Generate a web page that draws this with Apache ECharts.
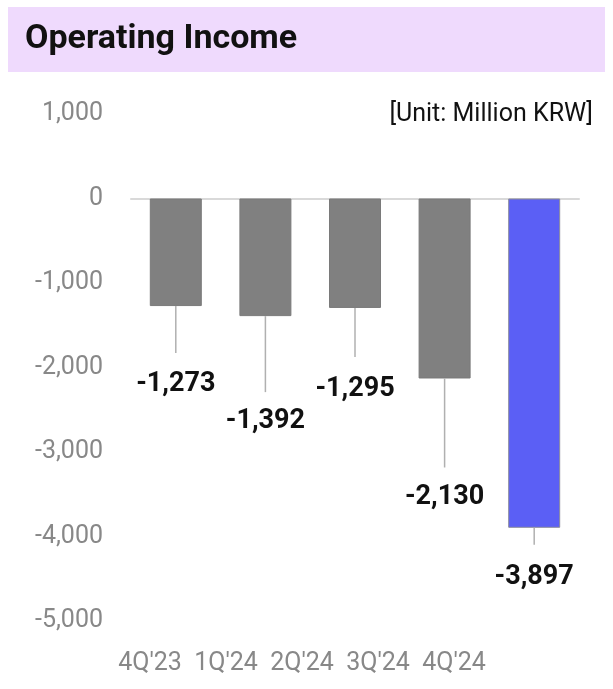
<!DOCTYPE html>
<html>
<head>
<meta charset="utf-8">
<script src="https://cdn.jsdelivr.net/npm/echarts@6/dist/echarts.min.js"></script>
<style>
html,body{margin:0;padding:0;background:#fff;}
#chart{width:613px;height:689px;}
</style>
</head>
<body>
<div id="chart"></div>
<script>
// ---- data ----
const categories = ["4Q'23", "1Q'24", "2Q'24", "3Q'24", "4Q'24"];
const values = [-1273, -1392, -1295, -2130, -3897];
const yTicks = [1000, 0, -1000, -2000, -3000, -4000, -5000];
const titleText = 'Operating Income';
const unitText = '[Unit: Million KRW]';

// ---- layout / style (pixels) ----
const leaderLen = [47, 76, 49, 89, 17];   // leader line length below bar end
const labelGap = [78, 105, 81, 119, 49];  // label centre below bar end
const highlightIndex = 4;

const chart = echarts.init(document.getElementById('chart'), null, {renderer: 'canvas'});
const fmt = v => (v < 0 ? '-' : '') + Math.abs(v).toLocaleString('en-US');

const option = {
  animation: false,
  backgroundColor: '#ffffff',
  graphic: [
    {type: 'rect', left: 8, top: 7, shape: {width: 597, height: 65}, style: {fill: '#EFDAFD'}, z: 0},
    {type: 'text', left: 25, top: 22, style: {text: titleText, font: 'bold 34px Roboto', fill: '#111'}, z: 1},
    {type: 'text', right: 20, top: 102, style: {text: unitText, font: '25px Roboto', fill: '#111'}, z: 1}
  ],
  grid: [
    {left: 131, right: 34, top: 114, bottom: 68},
    {left: 112, width: 380, top: 114, bottom: 68}
  ],
  xAxis: [
    {type: 'category', gridIndex: 0, data: categories,
     axisLine: {show: true, onZero: true, lineStyle: {color: '#d9d9d9', width: 2}},
     axisTick: {show: false}, axisLabel: {show: false}, splitLine: {show: false}},
    {type: 'category', gridIndex: 1, data: categories, position: 'bottom',
     axisLine: {show: false}, axisTick: {show: false},
     axisLabel: {show: true, color: '#888', fontFamily: 'Roboto', fontSize: 25, margin: 30, interval: 0}}
  ],
  yAxis: [
    {type: 'value', gridIndex: 0, min: -5000, max: 1000, interval: 1000,
     axisLine: {show: false}, axisTick: {show: false}, splitLine: {show: false},
     axisLabel: {color: '#888', fontFamily: 'Roboto', fontSize: 25, margin: 28, formatter: v => fmt(v)}},
    {type: 'value', gridIndex: 1, min: -5000, max: 1000, show: false}
  ],
  series: [
    {
      type: 'bar', xAxisIndex: 0, yAxisIndex: 0, barWidth: 52,
      data: values.map((v, i) => ({
        value: v,
        itemStyle: i === highlightIndex
          ? {color: '#5B5FF5', borderColor: '#8a8a9a', borderWidth: 1}
          : {color: '#808080', borderColor: '#7a7a7a', borderWidth: 1}
      })),
      z: 2
    },
    {
      type: 'custom', xAxisIndex: 0, yAxisIndex: 0,
      data: values.map((v, i) => [i, v]),
      renderItem: function (params, api) {
        const i = params.dataIndex;
        const p = api.coord([api.value(0), api.value(1)]);
        return {
          type: 'group',
          children: [
            {type: 'line', shape: {x1: p[0], y1: p[1], x2: p[0], y2: p[1] + leaderLen[i]},
             style: {stroke: '#b0b0b0', lineWidth: 1.5}},
            {type: 'text', x: p[0], y: p[1] + labelGap[i],
             style: {text: fmt(values[i]), font: 'bold 27px Roboto', fill: '#111',
                     textAlign: 'center', textVerticalAlign: 'middle'}}
          ]
        };
      },
      z: 3
    }
  ]
};
chart.setOption(option);
</script>
</body>
</html>
